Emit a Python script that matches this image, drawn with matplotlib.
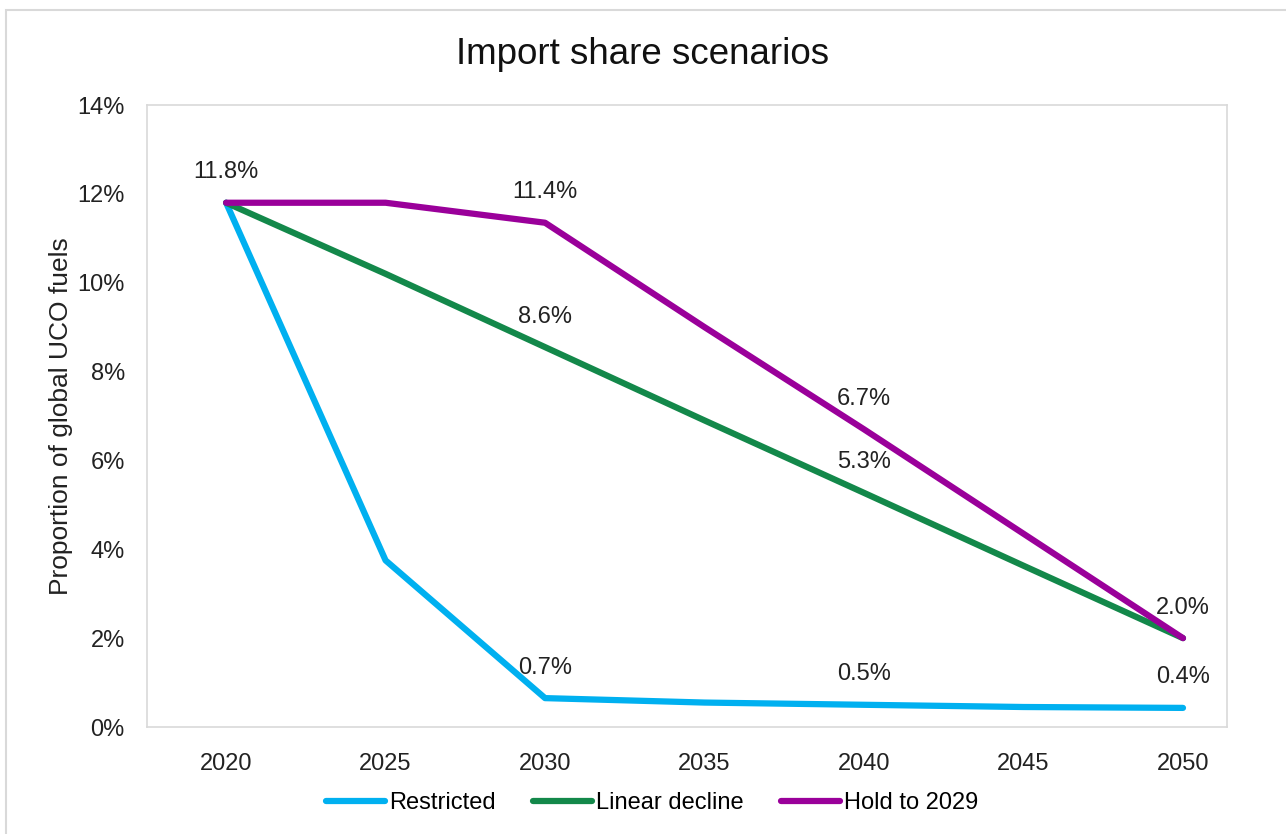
import matplotlib
matplotlib.use("Agg")
import matplotlib.pyplot as plt
from matplotlib.ticker import FuncFormatter

plt.rcParams["font.family"] = ["Liberation Sans", "DejaVu Sans"]

# ── data ──────────────────────────────────────────────────────────────────
years = [2020, 2025, 2030, 2035, 2040, 2045, 2050]
restricted = [11.8, 3.75, 0.65, 0.55, 0.5, 0.45, 0.43]
linear_decline = [11.8, 10.2, 8.55, 6.9, 5.27, 3.63, 2.0]
hold_to_2029 = [11.8, 11.8, 11.35, 9.0, 6.7, 4.35, 2.0]

series_names = ["Restricted", "Linear decline", "Hold to 2029"]
series_colors = ["#00b0f0", "#13884a", "#9a009a"]

# labels shown on the chart: (series index, year, text)
point_labels = [
    (2, 2020, "11.8%"), (2, 2030, "11.4%"), (1, 2030, "8.6%"),
    (2, 2040, "6.7%"), (1, 2040, "5.3%"), (2, 2050, "2.0%"),
    (0, 2030, "0.7%"), (0, 2040, "0.5%"), (0, 2050, "0.4%"),
]

# ── plot ──────────────────────────────────────────────────────────────────
fig = plt.figure(figsize=(12.86, 8.34), dpi=100)
ax = fig.add_axes([147 / 1286, 1 - 727 / 834, (1227 - 147) / 1286, (727 - 105) / 834])

all_series = [restricted, linear_decline, hold_to_2029]
for vals, name, col in zip(all_series, series_names, series_colors):
    ax.plot(years, vals, color=col, lw=4.5, label=name,
            solid_capstyle="round", solid_joinstyle="round")

for si, yr, txt in point_labels:
    v = all_series[si][years.index(yr)]
    ax.annotate(txt, (yr, v), xytext=(0, 14), textcoords="offset points",
                ha="center", va="bottom", fontsize=17, color="#222222")

ax.set_xlim(2017.52, 2051.38)
ax.set_ylim(0, 14)
ax.set_xticks(years)
ax.set_yticks(range(0, 15, 2))
ax.yaxis.set_major_formatter(FuncFormatter(lambda v, _: f"{v:.0f}%"))
ax.tick_params(axis="x", length=0, labelsize=17, colors="#222222", pad=19)
ax.tick_params(axis="y", length=0, labelsize=17, colors="#222222", pad=16)
for s in ax.spines.values():
    s.set_color("#d9d9d9")
    s.set_linewidth(1.2)

ax.set_ylabel("Proportion of global UCO fuels", fontsize=19, color="#222222", labelpad=3)
fig.text(0.5, 1 - 55 / 834, "Import share scenarios", ha="center", va="center",
         fontsize=26.5, color="#111111")

fig.legend(loc="center", bbox_to_anchor=(0.5 + 9 / 1286, 1 - 803 / 834), ncol=3,
           frameon=False, fontsize=17, handlelength=2.5, handletextpad=0.15,
           columnspacing=1.6)

# outer chart border (right and bottom edges run off the canvas)
fig.patches.append(plt.Rectangle((6 / 1286, -0.05), 1.1, 1.05 - 10 / 834,
                                 transform=fig.transFigure, fill=False,
                                 edgecolor="#d9d9d9", lw=1.5))

fig.savefig("out.png", dpi=100)
